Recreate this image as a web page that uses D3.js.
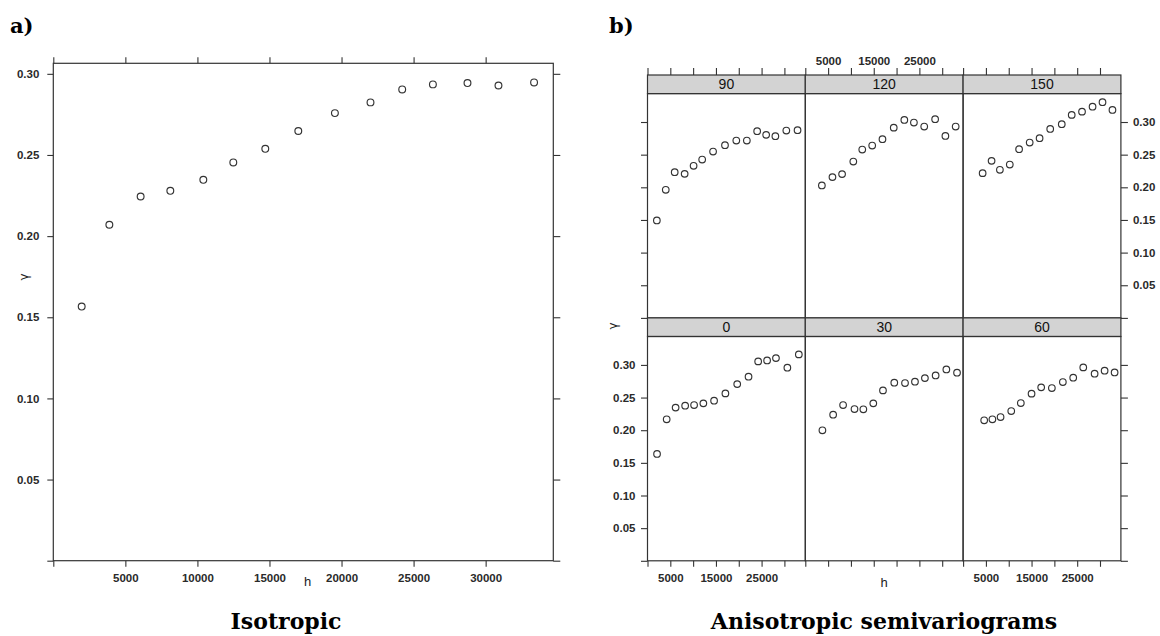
<!DOCTYPE html>
<html>
<head>
<meta charset="utf-8">
<script src="https://cdn.jsdelivr.net/npm/d3@7"></script>
<style>
  html, body { margin: 0; padding: 0; background: #fff; }
  svg { display: block; }
  .tick text { font-family: "Liberation Sans", Arial, sans-serif; font-size: 11.5px; font-weight: bold; fill: #2a2a2a; }
  .tick line { stroke: #333; stroke-width: 1.1; }
</style>
</head>
<body>
<svg id="chart" width="1160" height="636"></svg>
<script>
// Isotropic sample semivariogram: lag distance h and semivariance gamma
const isoDist  = [1970, 3890, 6060, 8120, 10410, 12490, 14710, 17000, 19540, 22010, 24210, 26340, 28740, 30890, 33360];
const isoGamma = [0.1566, 0.2070, 0.2244, 0.2279, 0.2347, 0.2454, 0.2538, 0.2648, 0.2758, 0.2824, 0.2904, 0.2935, 0.2943, 0.2928, 0.2947];

// Directional semivariograms (direction in degrees)
const dist0   = [2090, 4200, 6160, 8250, 10210, 12240, 14590, 17070, 19660, 22140, 24250, 26210, 28150, 30650, 33160];
const gamma0  = [0.1636, 0.2167, 0.2346, 0.2376, 0.2385, 0.2411, 0.2452, 0.2564, 0.2706, 0.2819, 0.3054, 0.3069, 0.3104, 0.2957, 0.3161];
const dist30  = [3750, 6100, 8280, 10780, 12720, 14900, 17020, 19500, 21850, 24030, 26210, 28560, 30910, 33250];
const gamma30 = [0.1998, 0.2238, 0.2385, 0.2324, 0.2320, 0.2411, 0.2610, 0.2728, 0.2722, 0.2743, 0.2798, 0.2839, 0.2931, 0.2881];
const dist60  = [4620, 6420, 8210, 10550, 12650, 15000, 17110, 19450, 21860, 24130, 26330, 28820, 31010, 33200];
const gamma60 = [0.2151, 0.2167, 0.2202, 0.2294, 0.2416, 0.2560, 0.2656, 0.2645, 0.2737, 0.2804, 0.2962, 0.2865, 0.2911, 0.2885];
const dist90  = [2050, 4000, 5960, 8140, 10100, 11980, 14370, 16980, 19460, 21770, 24030, 26000, 28020, 30420, 32880];
const gamma90 = [0.1492, 0.1962, 0.2232, 0.2206, 0.2329, 0.2425, 0.2547, 0.2645, 0.2716, 0.2716, 0.2859, 0.2803, 0.2783, 0.2869, 0.2875];
const dist120  = [3630, 5950, 8060, 10520, 12480, 14660, 16910, 19380, 21700, 23800, 26060, 28450, 30700, 32950];
const gamma120 = [0.2028, 0.2156, 0.2202, 0.2394, 0.2578, 0.2639, 0.2737, 0.2914, 0.3032, 0.2991, 0.2930, 0.3043, 0.2787, 0.2930];
const dist150  = [4280, 6240, 8060, 10230, 12270, 14590, 16760, 19090, 21620, 23800, 26060, 28370, 30550, 32730];
const gamma150 = [0.2217, 0.2405, 0.2268, 0.2349, 0.2584, 0.2685, 0.2752, 0.2894, 0.2966, 0.3109, 0.3159, 0.3235, 0.3303, 0.3185];

// Panel order: top row then bottom row
const directions = [90, 120, 150, 0, 30, 60];
const dirDist  = { 0: dist0, 30: dist30, 60: dist60, 90: dist90, 120: dist120, 150: dist150 };
const dirGamma = { 0: gamma0, 30: gamma30, 60: gamma60, 90: gamma90, 120: gamma120, 150: gamma150 };

// Tick values
const isoXTicks = [0, 5000, 10000, 15000, 20000, 25000, 30000];
const yTicks = [0, 0.05, 0.10, 0.15, 0.20, 0.25, 0.30];
const anisoXTicks = [0, 5000, 10000, 15000, 20000, 25000, 30000];
const anisoXLabels = [5000, 15000, 25000];

const svg = d3.select("#chart");
const fmtY = d => d === 0 ? "" : d3.format(".2f")(d);
const fmtX = d => d === 0 ? "" : String(d);
const lineColor = "#333";
const pointColor = "#333";

function cleanAxis(g) {
  g.select(".domain").remove();
  g.attr("font-family", null).attr("font-size", null);
}

// ---------- a) isotropic ----------
{
  const L = 53.3, R = 553.3, T = 63.3, B = 560.7;
  const x = d3.scaleLinear().domain([0, 1.04 * d3.max(isoDist)]).range([L, R]);
  const y = d3.scaleLinear().domain([0, 1.04 * d3.max(isoGamma)]).range([B, T]);
  const g = svg.append("g");

  g.append("g").attr("transform", `translate(0,${B})`)
    .call(d3.axisBottom(x).tickValues(isoXTicks).tickSize(6).tickPadding(7).tickFormat(fmtX)).call(cleanAxis);
  g.append("g").attr("transform", `translate(0,${T})`)
    .call(d3.axisTop(x).tickValues(isoXTicks).tickSize(6).tickFormat("")).call(cleanAxis);
  g.append("g").attr("transform", `translate(${L},0)`)
    .call(d3.axisLeft(y).tickValues(yTicks).tickSize(6).tickPadding(8).tickFormat(fmtY)).call(cleanAxis);
  g.append("g").attr("transform", `translate(${R},0)`)
    .call(d3.axisRight(y).tickValues(yTicks).tickSize(7).tickFormat("")).call(cleanAxis);

  g.append("rect").attr("x", L).attr("y", T).attr("width", R - L).attr("height", B - T)
    .attr("fill", "none").attr("stroke", lineColor).attr("stroke-width", 1.2);

  g.selectAll("circle.pt").data(isoDist.map((d, i) => [d, isoGamma[i]])).join("circle")
    .attr("class", "pt")
    .attr("cx", d => x(d[0])).attr("cy", d => y(d[1])).attr("r", 3.4)
    .attr("fill", "none").attr("stroke", pointColor).attr("stroke-width", 1.15);

  g.append("text").attr("x", 307.5).attr("y", 586).attr("text-anchor", "middle")
    .attr("font-family", "Liberation Sans, Arial, sans-serif").attr("font-size", 13).attr("fill", "#222").text("h");
  g.append("text").attr("transform", "translate(28,277) rotate(-90)").attr("text-anchor", "middle")
    .attr("font-family", "DejaVu Sans, sans-serif").attr("font-size", 12).attr("fill", "#222").text("γ");
}

// ---------- b) anisotropic ----------
{
  const left = 647.5, colW = 157.8;
  const stripTop = 75, stripH = 18.6, panelH = 224.3;
  const allDist = directions.flatMap(d => dirDist[d]);
  const allGamma = directions.flatMap(d => dirGamma[d]);
  const xMax = 1.04 * d3.max(allDist);
  const yMax = 1.04 * d3.max(allGamma);
  const g = svg.append("g");

  directions.forEach((dir, idx) => {
    const row = Math.floor(idx / 3), col = idx % 3;
    const L = left + col * colW, R = L + colW;
    const sT = stripTop + row * (stripH + panelH);
    const T = sT + stripH, B = T + panelH;
    const x = d3.scaleLinear().domain([0, xMax]).range([L, R]);
    const y = d3.scaleLinear().domain([0, yMax]).range([B, T]);
    const pg = g.append("g");

    // x ticks: top of the upper row, bottom of the lower row (labels alternate)
    if (row === 0) {
      const lab = col === 1;
      pg.append("g").attr("transform", `translate(0,${sT})`)
        .call(d3.axisTop(x).tickValues(anisoXTicks).tickSize(7).tickPadding(3.5)
          .tickFormat(d => lab && anisoXLabels.includes(d) ? d : "")).call(cleanAxis);
    } else {
      const lab = col !== 1;
      pg.append("g").attr("transform", `translate(0,${B})`)
        .call(d3.axisBottom(x).tickValues(anisoXTicks).tickSize(6).tickPadding(7)
          .tickFormat(d => lab && anisoXLabels.includes(d) ? d : "")).call(cleanAxis);
    }
    // y ticks on outer columns
    if (col === 0) {
      pg.append("g").attr("transform", `translate(${L},0)`)
        .call(d3.axisLeft(y).tickValues(yTicks).tickSize(6.5).tickPadding(5.5)
          .tickFormat(row === 1 ? fmtY : "")).call(cleanAxis);
    }
    if (col === 2) {
      pg.append("g").attr("transform", `translate(${R},0)`)
        .call(d3.axisRight(y).tickValues(yTicks).tickSize(7).tickPadding(5)
          .tickFormat(row === 0 ? fmtY : "")).call(cleanAxis);
    }

    // strip
    pg.append("rect").attr("x", L).attr("y", sT).attr("width", colW).attr("height", stripH)
      .attr("fill", "#d3d3d3").attr("stroke", lineColor).attr("stroke-width", 1.2);
    pg.append("text").attr("x", (L + R) / 2).attr("y", sT + stripH / 2 + 5)
      .attr("text-anchor", "middle").attr("font-family", "Liberation Sans, Arial, sans-serif")
      .attr("font-size", 14).attr("fill", "#111").text(dir);

    // panel box
    pg.append("rect").attr("x", L).attr("y", T).attr("width", colW).attr("height", panelH)
      .attr("fill", "none").attr("stroke", lineColor).attr("stroke-width", 1.2);

    const pts = dirDist[dir].map((d, i) => [d, dirGamma[dir][i]]);
    pg.selectAll("circle").data(pts).join("circle")
      .attr("cx", d => x(d[0])).attr("cy", d => y(d[1])).attr("r", 3.3)
      .attr("fill", "none").attr("stroke", pointColor).attr("stroke-width", 1.15);
  });

  g.append("text").attr("x", left + 1.5 * colW).attr("y", 587).attr("text-anchor", "middle")
    .attr("font-family", "Liberation Sans, Arial, sans-serif").attr("font-size", 13).attr("fill", "#222").text("h");
  g.append("text").attr("transform", "translate(617,326) rotate(-90)").attr("text-anchor", "middle")
    .attr("font-family", "DejaVu Sans, sans-serif").attr("font-size", 12).attr("fill", "#222").text("γ");
}

// ---------- panel tags and captions ----------
const serif = "DejaVu Serif, serif";
svg.append("text").attr("x", 10).attr("y", 33).attr("font-family", serif).attr("font-weight", "bold")
  .attr("font-size", 21).attr("fill", "#000").text("a)");
svg.append("text").attr("x", 609).attr("y", 33).attr("font-family", serif).attr("font-weight", "bold")
  .attr("font-size", 21).attr("fill", "#000").text("b)");
svg.append("text").attr("x", 286).attr("y", 629).attr("text-anchor", "middle").attr("font-family", serif)
  .attr("font-weight", "bold").attr("font-size", 22).attr("fill", "#000").text("Isotropic");
svg.append("text").attr("x", 884).attr("y", 629).attr("text-anchor", "middle").attr("font-family", serif)
  .attr("font-weight", "bold").attr("font-size", 22).attr("fill", "#000").text("Anisotropic semivariograms");
</script>
</body>
</html>
